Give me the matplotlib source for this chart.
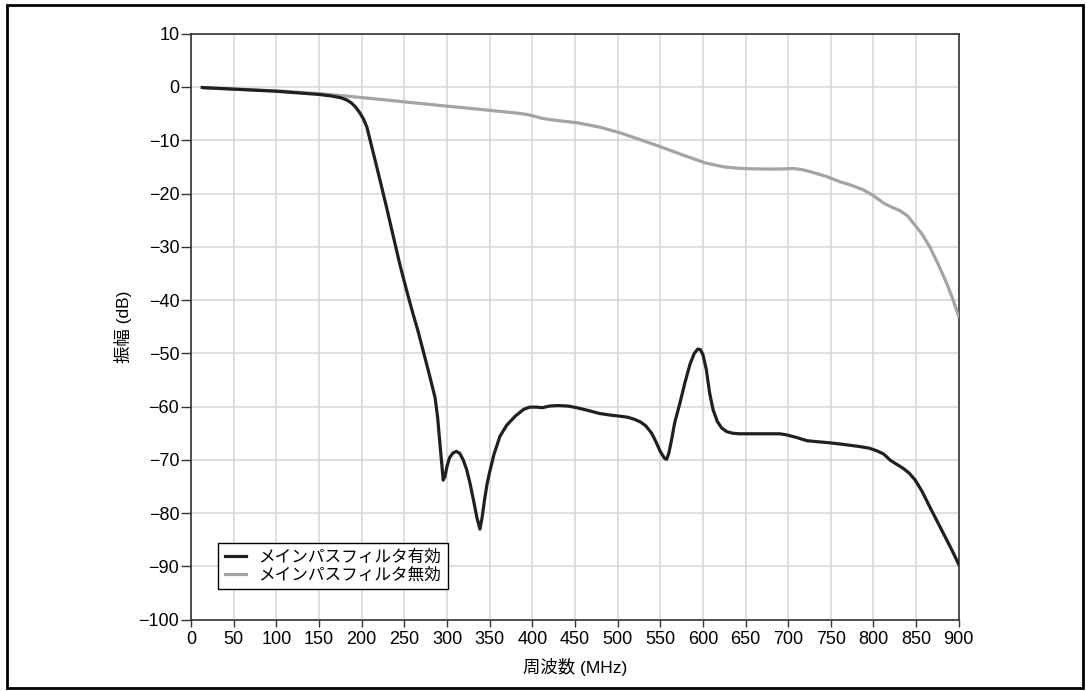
import numpy as np
import matplotlib
matplotlib.use('Agg')
import matplotlib.pyplot as plt
from matplotlib.patches import Rectangle

plt.rcParams['font.family'] = ['Liberation Sans', 'Noto Sans CJK JP', 'DejaVu Sans']

# フィルタ有効 (black)
f_on = [13, 50, 100, 150, 165, 175, 182, 188, 193, 198, 202, 206, 213, 221, 229,
        237, 245, 254, 260, 266, 272, 279, 286, 289, 292, 294, 295.5, 297.5,
        300, 303, 307, 311, 315, 319, 323, 327, 331, 335, 338.6, 341, 344, 347,
        350, 355, 362, 370, 380, 390, 397, 405, 412, 420, 430, 442, 452, 465, 479,
        492, 503, 512, 520, 527, 533, 540, 545, 550, 555, 557.5, 560, 563, 567,
        573, 579, 585, 590, 594, 597, 600, 604, 608, 612, 617, 622, 628, 635, 643,
        660, 675, 690, 698, 710, 722, 735, 749, 765, 784, 795, 804, 812, 820, 828,
        835, 842, 849, 857, 866, 874, 882, 891, 900]
a_on = [-0.1, -0.4, -0.8, -1.4, -1.7, -2.0, -2.4, -3.0, -3.8, -4.9, -6.0, -7.5,
        -12, -17.2, -22.5, -28, -33.5, -39, -42.5, -45.8, -49.5, -53.8, -58.3,
        -62, -67.5, -71, -73.8, -73.2, -71.2, -69.6, -68.7, -68.4, -68.8, -70,
        -71.8, -74.4, -77.5, -80.8, -83, -81, -77.5, -74.5, -72.3, -69, -65.6,
        -63.5, -61.8, -60.5, -60.1, -60.1, -60.2, -59.9, -59.8, -59.9, -60.2,
        -60.7, -61.3, -61.6, -61.8, -62, -62.4, -62.9, -63.6, -65, -66.6, -68.4,
        -69.7, -69.9, -68.8, -66.5, -63, -59.4, -55.5, -52, -50, -49.2, -49.3,
        -50.2, -53, -57.5, -60.6, -62.8, -64, -64.7, -65, -65.1, -65.1, -65.1,
        -65.1, -65.3, -65.8, -66.4, -66.6, -66.8, -67.1, -67.5, -67.8, -68.3,
        -68.9, -70.1, -70.9, -71.6, -72.5, -73.8, -75.9, -78.8, -81.3, -83.8,
        -86.6, -89.6]

# フィルタ無効 (gray)
f_off = [16, 60, 104, 150, 182, 220, 260, 300, 339, 360, 385, 395, 405, 412, 420,
         435, 452, 478, 503, 525, 550, 577, 604, 625, 644, 670, 690, 706, 716, 726,
         745, 761, 775, 788, 800, 812, 822, 831, 840, 847, 857, 866, 876, 886, 893,
         900]
a_off = [-0.2, -0.45, -0.75, -1.25, -1.7, -2.3, -2.95, -3.6, -4.2, -4.55, -4.95,
         -5.2, -5.6, -5.9, -6.1, -6.4, -6.7, -7.5, -8.6, -9.8, -11.2, -12.8, -14.3,
         -15.0, -15.3, -15.4, -15.4, -15.3, -15.5, -15.9, -16.8, -17.8, -18.5,
         -19.3, -20.4, -21.8, -22.6, -23.2, -24.2, -25.6, -27.6, -30, -33.3,
         -36.9, -39.8, -43.1]

labels = ['メインパスフィルタ有効', 'メインパスフィルタ無効']

fig = plt.figure(figsize=(10.86, 6.91), dpi=100)
ax = fig.add_axes([0.176, 0.1032, 0.7068, 0.848])

ax.plot(f_off, a_off, color='#a3a3a8', lw=2.3, label=labels[1], zorder=3)
ax.plot(f_on, a_on, color='#231f20', lw=2.3, label=labels[0], zorder=4)

ax.set_xlim(0, 900)
ax.set_ylim(-100, 10)
ax.set_xticks(np.arange(0, 901, 50))
ax.set_yticks(np.arange(-100, 11, 10))
ax.grid(True, color='#d9d9d9', lw=1.2)
ax.set_axisbelow(True)
for s in ax.spines.values():
    s.set_color('#333333')
    s.set_linewidth(1.2)
ax.tick_params(axis='y', direction='out', length=7, width=1, color='#333333',
               labelsize=13, pad=1.5)
ax.tick_params(axis='x', direction='out', length=5, width=1, color='#333333',
               labelsize=13, pad=3)

ax.set_xlabel('周波数 (MHz)', fontsize=12.5, labelpad=7)
ax.set_ylabel('振幅 (dB)', fontsize=12.5, labelpad=5)

h, l = ax.get_legend_handles_labels()
leg = ax.legend(h[::-1], l[::-1], loc='lower left', bbox_to_anchor=(0.035, 0.052),
                borderaxespad=0, fancybox=False, edgecolor='black', framealpha=1,
                fontsize=12, handlelength=1.3, handletextpad=0.7,
                borderpad=0.4, labelspacing=0.15)
leg.get_frame().set_linewidth(1.0)

fig.patches.append(Rectangle((0.006, 0.004), 0.991, 0.989, transform=fig.transFigure,
                             fill=False, edgecolor='black', lw=2))

fig.savefig('out.png', dpi=100)
